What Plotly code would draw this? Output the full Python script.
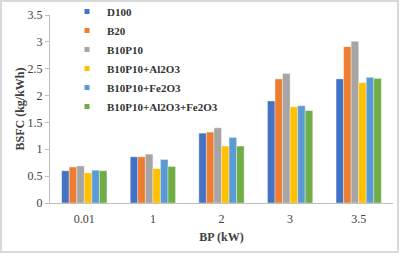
import plotly.graph_objects as go

categories = ["0.01", "1", "2", "3", "3.5"]
series_names = ["D100", "B20", "B10P10", "B10P10+Al2O3", "B10P10+Fe2O3", "B10P10+Al2O3+Fe2O3"]
d100 = [0.60, 0.86, 1.30, 1.90, 2.31]
b20 = [0.67, 0.86, 1.32, 2.31, 2.91]
b10p10 = [0.69, 0.91, 1.40, 2.41, 3.01]
al2o3 = [0.56, 0.64, 1.06, 1.79, 2.24]
fe2o3 = [0.61, 0.81, 1.22, 1.81, 2.34]
al2o3_fe2o3 = [0.60, 0.68, 1.06, 1.72, 2.32]
y_ticks = [0, 0.5, 1, 1.5, 2, 2.5, 3, 3.5]
y_tick_labels = ["0", "0.5", "1", "1.5", "2", "2.5", "3", "3.5"]

colors = ["#4472C4", "#ED7D31", "#A5A5A5", "#FFC000", "#5B9BD5", "#70AD47"]
all_values = [d100, b20, b10p10, al2o3, fe2o3, al2o3_fe2o3]

font_family = "Liberation Serif"
text_color = "#404040"

fig = go.Figure()
for name, vals, col in zip(series_names, all_values, colors):
    fig.add_trace(go.Bar(
        x=categories, y=vals, name=name, legendgroup=name, showlegend=False,
        marker=dict(color=col, line=dict(color="rgba(255,255,255,0.6)", width=0.6)),
    ))
# legend entries with small square keys (no data drawn)
for name, col in zip(series_names, colors):
    fig.add_trace(go.Scatter(
        x=[None], y=[None], mode="markers", name="<b>" + name + "</b>", legendgroup=name,
        marker=dict(symbol="square", size=5, color=col), showlegend=True,
    ))

W, H = 400, 257
L, R, T, B = 50, 7, 15, 54
pw, ph = W - L - R, H - T - B

def px_x(px):
    return (px - L) / pw

def px_y(py):
    return (H - B - py) / ph

fig.update_layout(
    width=W, height=H,
    margin=dict(l=L, r=R, t=T, b=B, autoexpand=False),
    paper_bgcolor="white", plot_bgcolor="white",
    barmode="group", bargap=0.34, bargroupgap=0,
    font=dict(family=font_family, size=12, color=text_color),
    showlegend=True,
    legend=dict(
        x=px_x(67), y=px_y(-3), xanchor="left", yanchor="top",
        bgcolor="rgba(0,0,0,0)", font=dict(size=11, color="#333333", family=font_family),
        itemwidth=30, tracegroupgap=0,
    ),
    xaxis=dict(
        type="category", showgrid=False, showline=True, linecolor="#BFBFBF", linewidth=1,
        ticks="", tickfont=dict(size=12, color=text_color, family=font_family), automargin=False,
        ticklabelstandoff=5,
        title=dict(text="<b>BP (kW)</b>", font=dict(size=12, color=text_color, family=font_family), standoff=7),
    ),
    yaxis=dict(
        range=[0, 3.5], tickvals=y_ticks, ticktext=y_tick_labels, automargin=False,
        showgrid=False, showline=True, linecolor="#BFBFBF", linewidth=1,
        ticks="outside", ticklen=4, tickcolor="#BFBFBF",
        tickfont=dict(size=12, color=text_color, family=font_family),
        title=dict(text="<b>BSFC (kg/kWh)</b>", font=dict(size=12, color=text_color, family=font_family), standoff=0),
        zeroline=False,
    ),
    shapes=[dict(
        type="rect", xref="paper", yref="paper",
        x0=px_x(1), x1=px_x(398), y0=px_y(252), y1=px_y(1),
        line=dict(color="#D9D9D9", width=2), fillcolor="rgba(0,0,0,0)", layer="below",
    )],
)

fig.write_html(
    "out.html",
    config={"displayModeBar": False},
    post_script="document.body.style.margin='0';document.body.style.overflow='hidden';",
)
